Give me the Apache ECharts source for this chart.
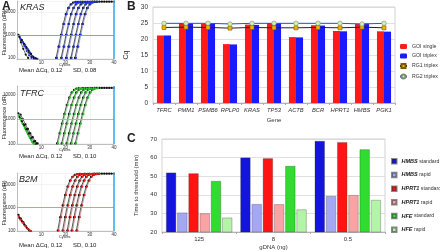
<!DOCTYPE html>
<html>
<head>
<meta charset="utf-8">
<script src="https://cdn.jsdelivr.net/npm/echarts@6/dist/echarts.min.js"></script>
<style>
  html, body { margin: 0; padding: 0; background: #fff; }
  #chart { width: 440px; height: 251px; }
</style>
</head>
<body>
<div id="chart"></div>
<script>
// ---- panel A: amplification plots (fluorescence vs cycle) ----
// rise profile (value at start cycle, start+1, ...)
const krasRise = [100, 310, 1000, 3000, 8000, 15000, 21500, 25500, 27300, 27800];
const krasStarts = [16.1, 18.2, 20.2, 22.2, 23.9];
const krasRepStarts = [16.5, 18.5, 20.6, 22.5, 24.3];
const krasTopStart = 26;
const krasTop = [27500, 27600, 27700, 27800, 27800, 27900, 27900, 28000, 28000, 28000, 28000, 28000, 28000, 28000, 28000];
const krasBaseStarts = [0.6, 1, 1, 1.4, 1.8];
const krasBase = [
  [1000, 480, 250, 140, 100],
  [900, 560, 330, 200, 130, 100],
  [820, 600, 400, 260, 170, 115, 95],
  [700, 500, 360, 250, 170, 120, 100, 92],
  [600, 420, 300, 210, 150, 110, 95]
];

const tfrcRise = [100, 260, 650, 1600, 3700, 7400, 12000, 15500, 17300, 18000];
const tfrcStarts = [16.5, 18.4, 20.4, 22.2, 24.0];
const tfrcRepStarts = [16.9, 18.8, 20.8, 22.6, 24.4];
const tfrcTopStart = 27;
const tfrcTop = [17900, 18000, 18100, 18200, 18200, 18300, 18300, 18300, 18400, 18400, 18400, 18400, 18400, 18400];
const tfrcBaseStarts = [0.6, 0.8, 1, 1.2, 1.5];
const tfrcBase = [
  [1700, 1000, 620, 400, 250, 160, 110, 95],
  [1400, 850, 520, 330, 210, 140, 100],
  [1200, 800, 560, 380, 260, 175, 120, 100],
  [1000, 650, 420, 270, 170, 115, 95],
  [1500, 950, 600, 390, 260, 180, 125, 100]
];

const b2mRise = [100, 380, 1250, 3500, 8200, 15000, 22000, 26500, 28500, 29500];
const b2mStarts = [16.8, 18.8, 20.7, 22.5, 24.5];
const b2mRepStarts = [17.2, 19.2, 21.1, 22.9, 24.9];
const b2mTopStart = 27;
const b2mTop = [29000, 29300, 29500, 29600, 29700, 29800, 29800, 29900, 29900, 30000, 30000, 30000, 30000, 30000];
const b2mBaseStarts = [0.6, 0.8, 1, 1.3];
const b2mBase = [
  [480, 330, 230, 160, 115, 95],
  [400, 290, 210, 150, 110, 95],
  [350, 250, 180, 130, 100],
  [300, 220, 160, 120, 98]
];

// ---- panel B: Cq per gene ----
const genes = ['TFRC', 'PMM1', 'PSMB6', 'RPLP0', 'KRAS', 'TP53', 'ACTB', 'BCR', 'HPRT1', 'HMBS', 'PGK1'];
const goiSingle = [21.1, 25.0, 24.8, 18.4, 24.5, 25.0, 20.6, 24.3, 22.5, 24.7, 22.4];
const goiTriplex = [21.1, 24.9, 24.8, 18.3, 24.4, 25.0, 20.5, 24.2, 22.4, 24.8, 22.3];
const rg1Triplex = [23.6, 23.7, 23.6, 23.4, 23.6, 23.5, 23.5, 23.6, 23.5, 23.7, 23.5];
const rg2Triplex = [24.9, 24.9, 24.9, 24.7, 24.9, 24.9, 24.9, 24.9, 24.9, 24.7, 24.9];

// ---- panel C: time to threshold ----
const dnaAmounts = ['125', '8', '0.5'];
const hmbsStandard = [51.9, 60.0, 68.9];
const hmbsRapid = [30.4, 35.0, 39.3];
const hprt1Standard = [51.5, 59.6, 68.3];
const hprt1Rapid = [30.0, 34.9, 39.8];
const hfeStandard = [47.4, 55.5, 64.4];
const hfeRapid = [27.7, 32.1, 37.2];

const FONT = 'Liberation Sans, Arial, sans-serif';

function pts(start, arr) {
  return arr.map((v, i) => [start + i, v]);
}

function ampSeries(idx, p) {
  const out = [];
  const base = { xAxisIndex: idx, yAxisIndex: idx, silent: true, animation: false };
  p.starts.forEach((s, k) => {
    out.push(Object.assign({
      type: 'line', data: pts(s, p.rise), symbol: 'circle', symbolSize: 2.2,
      lineStyle: { color: '#111', width: 0.7 }, itemStyle: { color: '#111' }, z: 3
    }, base));
    out.push(Object.assign({
      type: 'line', data: pts(p.repStarts[k], p.rise), symbol: 'circle', symbolSize: 2.2,
      lineStyle: { color: p.line, width: 0.5 }, itemStyle: { color: p.dot }, z: 4
    }, base));
  });
  out.push(Object.assign({
    type: 'line', data: pts(p.topStart, p.top), symbol: 'circle', symbolSize: 2.2,
    lineStyle: { color: '#111', width: 0.8 }, itemStyle: { color: '#111' }, z: 3
  }, base));
  p.base.forEach((arr, k) => {
    out.push(Object.assign({
      type: 'line', data: pts(p.baseStarts[k], arr), symbol: 'circle', symbolSize: 2.2,
      lineStyle: { color: k % 2 ? p.line : '#111', width: 0.6 },
      itemStyle: { color: k % 2 ? p.dot : '#111' }, z: 3
    }, base));
  });
  // threshold and right border
  out.push(Object.assign({
    type: 'line', data: [], z: 2,
    markLine: {
      silent: true, symbol: 'none', label: { show: false },
      data: [
        { yAxis: 1000, lineStyle: { color: p.thr, width: 0.9, type: 'solid' } },
        { xAxis: 40, lineStyle: { color: '#3cb0f0', width: 1.6, type: 'solid' } }
      ]
    }
  }, base));
  return out;
}

const panels = [
  { rise: krasRise, starts: krasStarts, repStarts: krasRepStarts, topStart: krasTopStart, top: krasTop,
    base: krasBase, baseStarts: krasBaseStarts, dot: '#2236e6', line: '#3a4ab0', thr: '#8090e6' },
  { rise: tfrcRise, starts: tfrcStarts, repStarts: tfrcRepStarts, topStart: tfrcTopStart, top: tfrcTop,
    base: tfrcBase, baseStarts: tfrcBaseStarts, dot: '#28c828', line: '#3a9a3a', thr: '#6ae06a' },
  { rise: b2mRise, starts: b2mStarts, repStarts: b2mRepStarts, topStart: b2mTopStart, top: b2mTop,
    base: b2mBase, baseStarts: b2mBaseStarts, dot: '#e62222', line: '#a04040', thr: '#d98a8a' }
];
const aGrids = [
  { left: 16, top: 1, width: 98, height: 58, min: 90, max: 30000 },
  { left: 16, top: 86, width: 98, height: 58, min: 95, max: 22000 },
  { left: 16, top: 173, width: 98, height: 58, min: 95, max: 32000 }
];

const grid = aGrids.map(g => ({ left: g.left, top: g.top, width: g.width, height: g.height }));
grid.push({ left: 153, top: 7, width: 242, height: 96, show: true, borderColor: '#c8c8c8', borderWidth: 0.8 });
grid.push({ left: 162, top: 139, width: 223, height: 93, show: true, borderColor: '#c8c8c8', borderWidth: 0.8 });

const xAxis = aGrids.map((g, i) => ({
  type: 'value', gridIndex: i, min: 0, max: 40, interval: 10,
  axisLine: { lineStyle: { color: '#999', width: 0.6 } },
  axisTick: { show: false },
  axisLabel: { fontSize: 4.5, color: '#333', margin: 1.5, showMinLabel: false, fontFamily: FONT },
  splitLine: { show: true, lineStyle: { color: '#d0d0d0', type: 'dotted', width: 0.5 } }
}));
xAxis.push({
  type: 'category', gridIndex: 3, data: genes,
  axisLine: { lineStyle: { color: '#aaa', width: 0.8 } },
  axisTick: { show: true, length: 2, lineStyle: { color: '#aaa' } },
  axisLabel: { interval: 0, fontSize: 5.8, fontStyle: 'italic', color: '#333', margin: 4, fontFamily: FONT },
  name: 'Gene', nameLocation: 'middle', nameGap: 14,
  nameTextStyle: { fontSize: 6, color: '#333', fontFamily: FONT }
});
xAxis.push({
  type: 'category', gridIndex: 4, data: dnaAmounts,
  axisLine: { lineStyle: { color: '#aaa', width: 0.8 } },
  axisTick: { show: true, length: 2, lineStyle: { color: '#aaa' } },
  axisLabel: { fontSize: 6, color: '#333', margin: 4, fontFamily: FONT },
  name: 'gDNA (ng)', nameLocation: 'middle', nameGap: 12,
  nameTextStyle: { fontSize: 6, color: '#333', fontFamily: FONT }
});

const yAxis = aGrids.map((g, i) => ({
  type: 'log', logBase: 10, gridIndex: i, min: g.min, max: g.max,
  axisLine: { show: true, lineStyle: { color: '#999', width: 0.6 } },
  axisTick: { show: false },
  axisLabel: {
    fontSize: 4.5, color: '#333', margin: 1.5, fontFamily: FONT,
    formatter: v => ([100, 1000, 10000].indexOf(Math.round(v)) >= 0 ? String(Math.round(v)) : '')
  },
  splitLine: { show: true, lineStyle: { color: '#d0d0d0', type: 'dotted', width: 0.5 } }
}));
yAxis.push({
  type: 'value', gridIndex: 3, min: 0, max: 30, interval: 5,
  axisLine: { show: false }, axisTick: { show: false },
  axisLabel: { fontSize: 6.5, color: '#333', margin: 5, fontFamily: FONT },
  splitLine: { lineStyle: { color: '#d8d8d8', width: 0.8 } },
  name: 'Cq', nameLocation: 'middle', nameGap: 12,
  nameTextStyle: { fontSize: 7, color: '#333', fontFamily: FONT }
});
yAxis.push({
  type: 'value', gridIndex: 4, min: 20, max: 70, interval: 10,
  axisLine: { show: false }, axisTick: { show: false },
  axisLabel: { fontSize: 6, color: '#333', margin: 5, fontFamily: FONT },
  splitLine: { lineStyle: { color: '#d8d8d8', width: 0.8 } },
  name: 'Time to threshold (min)', nameLocation: 'middle', nameGap: 15,
  nameTextStyle: { fontSize: 6, color: '#333', fontFamily: FONT }
});

let series = [];
panels.forEach((p, i) => { series = series.concat(ampSeries(i, p)); });

series.push(
  { name: 'GOI single', type: 'bar', xAxisIndex: 3, yAxisIndex: 3, data: goiSingle,
    barGap: '0%', barCategoryGap: '36%', itemStyle: { color: '#ff1a1a' } },
  { name: 'GOI triplex', type: 'bar', xAxisIndex: 3, yAxisIndex: 3, data: goiTriplex,
    itemStyle: { color: '#1a1aff' } },
  { name: 'RG1 triplex', type: 'line', xAxisIndex: 3, yAxisIndex: 3, data: rg1Triplex,
    symbol: 'rect', symbolSize: 4, z: 5,
    lineStyle: { color: '#222', width: 1 },
    itemStyle: { color: '#f0b400', borderColor: '#7a5a00', borderWidth: 0.6 } },
  { name: 'RG2 triplex', type: 'line', xAxisIndex: 3, yAxisIndex: 3, data: rg2Triplex,
    symbol: 'circle', symbolSize: 4.5, z: 5,
    lineStyle: { color: '#3050c0', width: 1 },
    itemStyle: { color: '#d4f0b4', borderColor: '#7a8a7a', borderWidth: 0.6 } }
);

const cBars = [
  ['HMBS standard', hmbsStandard, '#1414e0'],
  ['HMBS rapid', hmbsRapid, '#a4a8f4'],
  ['HPRT1 standard', hprt1Standard, '#ff1414'],
  ['HPRT1 rapid', hprt1Rapid, '#f8a4a4'],
  ['HFE standard', hfeStandard, '#30dc30'],
  ['HFE rapid', hfeRapid, '#b4f4a8']
];
cBars.forEach(([name, data, color]) => {
  series.push({
    name, type: 'bar', xAxisIndex: 4, yAxisIndex: 4, data,
    barGap: '12%', barCategoryGap: '11%',
    itemStyle: { color, borderColor: 'rgba(40,40,40,0.55)', borderWidth: 0.5 }
  });
});

function txt(x, y, text, font) {
  return { type: 'text', x, y, silent: true,
    style: { text, font, fill: '#222', textVerticalAlign: 'middle' } };
}
function vtxt(x, y, text, font) {
  // +90deg reads bottom-to-top
  return { type: 'text', x, y, rotation: Math.PI / 2, silent: true,
    style: { text, font, fill: '#222', textAlign: 'center', textVerticalAlign: 'middle' } };
}

const graphic = [
  txt(2, 7, 'A', 'bold 12px ' + FONT),
  txt(127, 7, 'B', 'bold 12px ' + FONT),
  txt(127, 139, 'C', 'bold 12px ' + FONT),
  txt(20, 7, 'KRAS', 'italic 9px ' + FONT),
  txt(20, 93, 'TFRC', 'italic 9px ' + FONT),
  txt(19, 179, 'B2M', 'italic 9px ' + FONT),
  txt(19, 70, 'Mean \u0394Cq, 0.12', '6px ' + FONT),
  txt(73, 70, 'SD, 0.08', '6px ' + FONT),
  txt(19, 156, 'Mean \u0394Cq, 0.12', '6px ' + FONT),
  txt(73, 156, 'SD, 0.10', '6px ' + FONT),
  txt(19, 245, 'Mean \u0394Cq, 0.12', '6px ' + FONT),
  txt(73, 245, 'SD, 0.10', '6px ' + FONT),
  txt(59, 64.5, 'Cycles', '3.8px ' + FONT),
  txt(59, 149.5, 'Cycles', '3.8px ' + FONT),
  txt(59, 236.5, 'Cycles', '3.8px ' + FONT),
  vtxt(4, 33, 'Fluorescence (dR)', '5.5px ' + FONT),
  vtxt(4, 117, 'Fluorescence (dR)', '5.5px ' + FONT),
  vtxt(4, 203, 'Fluorescence (dR)', '5.5px ' + FONT)
];

const chart = echarts.init(document.getElementById('chart'), null, { renderer: 'canvas' });
chart.setOption({
  animation: false,
  textStyle: { fontFamily: FONT },
  grid, xAxis, yAxis, series, graphic,
  legend: [
    {
      data: ['GOI single', 'GOI triplex', 'RG1 triplex', 'RG2 triplex'],
      orient: 'vertical', left: 394, top: 39, itemWidth: 7, itemHeight: 5, itemGap: 4.5,
      textStyle: { fontSize: 5.2, color: '#333' }, selectedMode: false
    },
    {
      data: cBars.map(c => c[0]),
      orient: 'vertical', left: 386, top: 153, itemWidth: 4.5, itemHeight: 4.5, itemGap: 7.2,
      icon: 'rect', selectedMode: false,
      formatter: name => {
        const parts = name.split(' ');
        return '{g|' + parts[0] + '} ' + parts[1];
      },
      textStyle: {
        fontSize: 5.2, color: '#333',
        rich: { g: { fontSize: 5.5, fontStyle: 'italic', fontWeight: 'bold', color: '#222' } }
      }
    }
  ]
});
</script>
</body>
</html>
